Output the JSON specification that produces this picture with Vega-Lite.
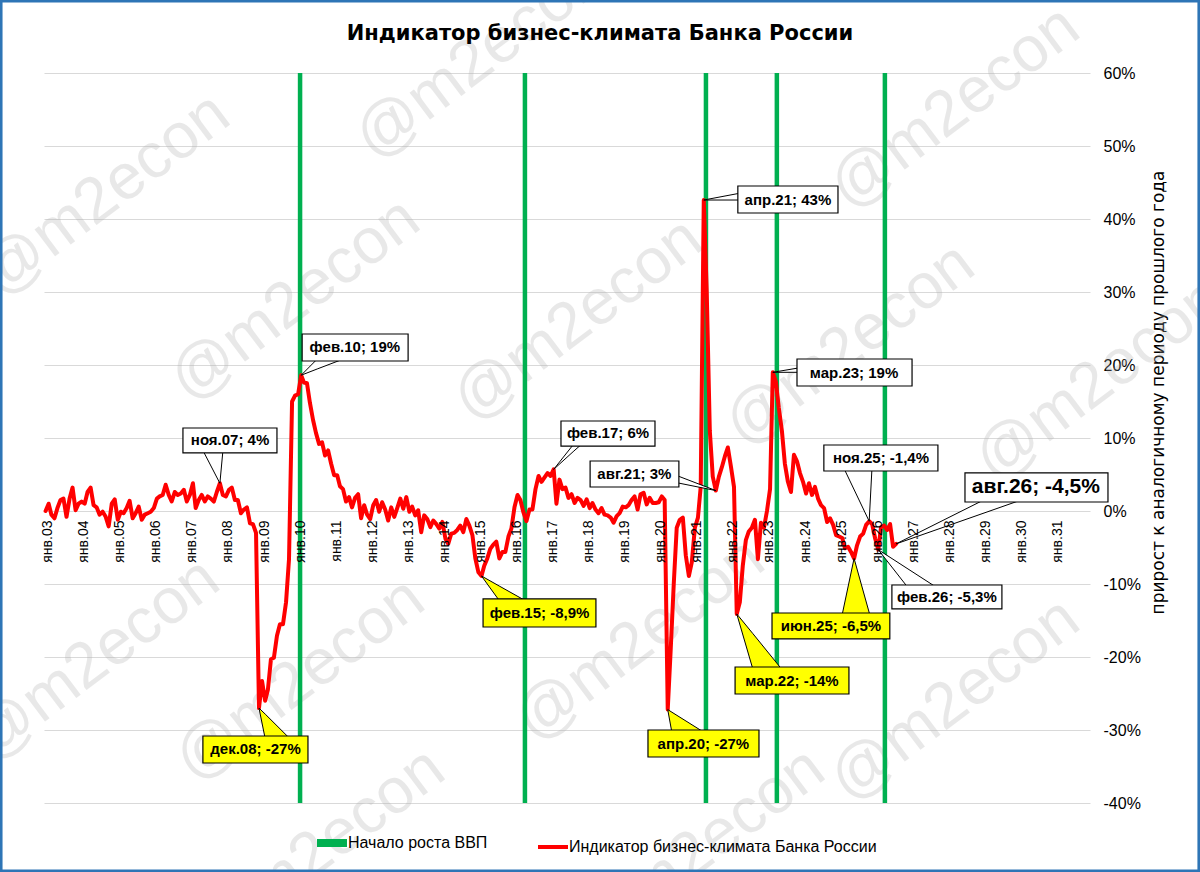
{
  "$schema": "https://vega.github.io/schema/vega-lite/v6.json",
  "width": 1046,
  "height": 730,
  "autosize": {"type": "none"},
  "padding": {"left": 44, "top": 73, "right": 110, "bottom": 69},
  "background": "#ffffff",
  "title": {
    "text": "Индикатор бизнес-климата Банка России",
    "font": "DejaVu Sans",
    "fontSize": 21,
    "fontWeight": "bold",
    "color": "#000000",
    "anchor": "middle",
    "frame": "group",
    "baseline": "alphabetic",
    "offset": 0,
    "dx": 33,
    "dy": 117
  },
  "datasets": {
    "watermarks": [
      {"at": "2015-01-17", "level": 62.05},
      {"at": "2028-03-18", "level": 55.2},
      {"at": "2004-08-25", "level": 43.3},
      {"at": "2009-12-01", "level": 28.9},
      {"at": "2017-10-05", "level": 26.16},
      {"at": "2025-04-20", "level": 22.74},
      {"at": "2032-03-25", "level": 17.95},
      {"at": "2004-05-15", "level": -20.41},
      {"at": "2010-01-20", "level": -23.15},
      {"at": "2019-06-24", "level": -17.67},
      {"at": "2028-03-18", "level": -25.89},
      {"at": "2010-08-11", "level": -46.4},
      {"at": "2021-02-23", "level": -46.4}
    ],
    "growth": [
      {"date": "2010-01-21"},
      {"date": "2016-04-16"},
      {"date": "2021-04-23"},
      {"date": "2023-04-11"},
      {"date": "2026-04-09"}
    ],
    "series": [
      {"date": "2003-01", "value": 0}, {"date": "2003-02", "value": 1.0}, {"date": "2003-03", "value": -0.5}, {"date": "2003-04", "value": -1.0},
      {"date": "2003-05", "value": 0.4}, {"date": "2003-06", "value": 1.5}, {"date": "2003-07", "value": 1.7}, {"date": "2003-08", "value": -0.8},
      {"date": "2003-09", "value": 1.7}, {"date": "2003-10", "value": 3.2}, {"date": "2003-11", "value": 0.1}, {"date": "2003-12", "value": 1.0},
      {"date": "2004-01", "value": 1.3}, {"date": "2004-02", "value": 1.0}, {"date": "2004-03", "value": 2.6}, {"date": "2004-04", "value": 3.2},
      {"date": "2004-05", "value": 0.8}, {"date": "2004-06", "value": 0.5}, {"date": "2004-07", "value": -0.5}, {"date": "2004-08", "value": -0.1},
      {"date": "2004-09", "value": -0.8}, {"date": "2004-10", "value": -2.1}, {"date": "2004-11", "value": 1.0}, {"date": "2004-12", "value": 1.6},
      {"date": "2005-01", "value": -1.2}, {"date": "2005-02", "value": -0.1}, {"date": "2005-03", "value": -0.3}, {"date": "2005-04", "value": 0.4},
      {"date": "2005-05", "value": 1.4}, {"date": "2005-06", "value": -1.0}, {"date": "2005-07", "value": -0.3}, {"date": "2005-08", "value": 0.6},
      {"date": "2005-09", "value": -1.2}, {"date": "2005-10", "value": -0.5}, {"date": "2005-11", "value": -0.3}, {"date": "2005-12", "value": -0.1},
      {"date": "2006-01", "value": 0.4}, {"date": "2006-02", "value": 1.7}, {"date": "2006-03", "value": 2.0}, {"date": "2006-04", "value": 2.2},
      {"date": "2006-05", "value": 3.6}, {"date": "2006-06", "value": 2.2}, {"date": "2006-07", "value": 1.3}, {"date": "2006-08", "value": 2.6},
      {"date": "2006-09", "value": 2.2}, {"date": "2006-10", "value": 2.4}, {"date": "2006-11", "value": 2.9}, {"date": "2006-12", "value": 1.3},
      {"date": "2007-01", "value": 2.2}, {"date": "2007-02", "value": 3.8}, {"date": "2007-03", "value": 0.4}, {"date": "2007-04", "value": 1.5},
      {"date": "2007-05", "value": 2.2}, {"date": "2007-06", "value": 1.3}, {"date": "2007-07", "value": 2.0}, {"date": "2007-08", "value": 1.7},
      {"date": "2007-09", "value": 1.3}, {"date": "2007-10", "value": 2.6}, {"date": "2007-11", "value": 3.8}, {"date": "2007-12", "value": 2.2},
      {"date": "2008-01", "value": 2.0}, {"date": "2008-02", "value": 2.9}, {"date": "2008-03", "value": 3.2}, {"date": "2008-04", "value": 1.5},
      {"date": "2008-05", "value": 1.5}, {"date": "2008-06", "value": -0.3}, {"date": "2008-07", "value": 0.2}, {"date": "2008-08", "value": 0.5},
      {"date": "2008-09", "value": -1.7}, {"date": "2008-10", "value": -1.8}, {"date": "2008-11", "value": -3.0}, {"date": "2008-12", "value": -27.0},
      {"date": "2009-01", "value": -23.3}, {"date": "2009-02", "value": -26.0}, {"date": "2009-03", "value": -24.5}, {"date": "2009-04", "value": -20.3},
      {"date": "2009-05", "value": -20.1}, {"date": "2009-06", "value": -17.1}, {"date": "2009-07", "value": -15.5}, {"date": "2009-08", "value": -15.5},
      {"date": "2009-09", "value": -12.5}, {"date": "2009-10", "value": -6.6}, {"date": "2009-11", "value": 15.0}, {"date": "2009-12", "value": 15.8},
      {"date": "2010-01", "value": 16.0}, {"date": "2010-02", "value": 18.6}, {"date": "2010-03", "value": 17.6}, {"date": "2010-04", "value": 17.5},
      {"date": "2010-05", "value": 14.8}, {"date": "2010-06", "value": 12.5}, {"date": "2010-07", "value": 10.7}, {"date": "2010-08", "value": 9.2},
      {"date": "2010-09", "value": 9.4}, {"date": "2010-10", "value": 7.6}, {"date": "2010-11", "value": 8.3}, {"date": "2010-12", "value": 6.5},
      {"date": "2011-01", "value": 4.9}, {"date": "2011-02", "value": 4.9}, {"date": "2011-03", "value": 3.4}, {"date": "2011-04", "value": 3.0},
      {"date": "2011-05", "value": 1.3}, {"date": "2011-06", "value": 1.9}, {"date": "2011-07", "value": 0.5}, {"date": "2011-08", "value": 1.8},
      {"date": "2011-09", "value": 2.3}, {"date": "2011-10", "value": -1.0}, {"date": "2011-11", "value": 0.8}, {"date": "2011-12", "value": -0.5},
      {"date": "2012-01", "value": -1.1}, {"date": "2012-02", "value": 0.8}, {"date": "2012-03", "value": 1.5}, {"date": "2012-04", "value": -0.1},
      {"date": "2012-05", "value": 1.2}, {"date": "2012-06", "value": 0.2}, {"date": "2012-07", "value": -1.3}, {"date": "2012-08", "value": 0.5},
      {"date": "2012-09", "value": -0.8}, {"date": "2012-10", "value": 0.4}, {"date": "2012-11", "value": 1.7}, {"date": "2012-12", "value": 0.3},
      {"date": "2013-01", "value": 1.9}, {"date": "2013-02", "value": -0.1}, {"date": "2013-03", "value": 0.6}, {"date": "2013-04", "value": -0.6},
      {"date": "2013-05", "value": 0.1}, {"date": "2013-06", "value": -2.9}, {"date": "2013-07", "value": -0.6}, {"date": "2013-08", "value": -1.1},
      {"date": "2013-09", "value": -2.2}, {"date": "2013-10", "value": -1.3}, {"date": "2013-11", "value": -1.8}, {"date": "2013-12", "value": -2.4},
      {"date": "2014-01", "value": -1.5}, {"date": "2014-02", "value": -3.8}, {"date": "2014-03", "value": -4.5}, {"date": "2014-04", "value": -3.1},
      {"date": "2014-05", "value": -3.0}, {"date": "2014-06", "value": -2.6}, {"date": "2014-07", "value": -2.0}, {"date": "2014-08", "value": -2.9},
      {"date": "2014-09", "value": -1.1}, {"date": "2014-10", "value": -2.0}, {"date": "2014-11", "value": -3.3}, {"date": "2014-12", "value": -6.5},
      {"date": "2015-01", "value": -8.4}, {"date": "2015-02", "value": -8.9}, {"date": "2015-03", "value": -7.5}, {"date": "2015-04", "value": -6.5},
      {"date": "2015-05", "value": -5.2}, {"date": "2015-06", "value": -4.6}, {"date": "2015-07", "value": -4.2}, {"date": "2015-08", "value": -6.5},
      {"date": "2015-09", "value": -5.6}, {"date": "2015-10", "value": -5.6}, {"date": "2015-11", "value": -3.5}, {"date": "2015-12", "value": -2.4},
      {"date": "2016-01", "value": 0.5}, {"date": "2016-02", "value": 2.2}, {"date": "2016-03", "value": 1.5}, {"date": "2016-04", "value": -0.2},
      {"date": "2016-05", "value": -1.4}, {"date": "2016-06", "value": 0.2}, {"date": "2016-07", "value": 0.2}, {"date": "2016-08", "value": 3.0},
      {"date": "2016-09", "value": 4.8}, {"date": "2016-10", "value": 4.0}, {"date": "2016-11", "value": 4.6}, {"date": "2016-12", "value": 5.2},
      {"date": "2017-01", "value": 4.8}, {"date": "2017-02", "value": 5.7}, {"date": "2017-03", "value": 1.0}, {"date": "2017-04", "value": 4.3},
      {"date": "2017-05", "value": 3.0}, {"date": "2017-06", "value": 3.2}, {"date": "2017-07", "value": 1.8}, {"date": "2017-08", "value": 2.3},
      {"date": "2017-09", "value": 1.1}, {"date": "2017-10", "value": 1.8}, {"date": "2017-11", "value": 1.5}, {"date": "2017-12", "value": 0.7},
      {"date": "2018-01", "value": 1.6}, {"date": "2018-02", "value": 0.4}, {"date": "2018-03", "value": 1.1}, {"date": "2018-04", "value": 0.2},
      {"date": "2018-05", "value": -0.3}, {"date": "2018-06", "value": 0.4}, {"date": "2018-07", "value": -0.5}, {"date": "2018-08", "value": -0.6},
      {"date": "2018-09", "value": -0.9}, {"date": "2018-10", "value": -1.6}, {"date": "2018-11", "value": -0.7}, {"date": "2018-12", "value": -0.3},
      {"date": "2019-01", "value": 0.6}, {"date": "2019-02", "value": 0.5}, {"date": "2019-03", "value": 0.8}, {"date": "2019-04", "value": 1.5},
      {"date": "2019-05", "value": 2.0}, {"date": "2019-06", "value": 0.2}, {"date": "2019-07", "value": 2.3}, {"date": "2019-08", "value": 2.5},
      {"date": "2019-09", "value": 0.9}, {"date": "2019-10", "value": 1.8}, {"date": "2019-11", "value": 1.1}, {"date": "2019-12", "value": 1.1},
      {"date": "2020-01", "value": 1.2}, {"date": "2020-02", "value": 2.0}, {"date": "2020-03", "value": 1.5}, {"date": "2020-04", "value": -27.2},
      {"date": "2020-05", "value": -19.0}, {"date": "2020-06", "value": -10.0}, {"date": "2020-07", "value": -2.3}, {"date": "2020-08", "value": -1.2},
      {"date": "2020-09", "value": -0.9}, {"date": "2020-10", "value": -6.1}, {"date": "2020-11", "value": -8.9}, {"date": "2020-12", "value": -7.0},
      {"date": "2021-01", "value": -2.3}, {"date": "2021-02", "value": -0.9}, {"date": "2021-03", "value": 3.3}, {"date": "2021-04", "value": 42.6},
      {"date": "2021-05", "value": 30.0}, {"date": "2021-06", "value": 11.0}, {"date": "2021-07", "value": 4.7}, {"date": "2021-08", "value": 2.8},
      {"date": "2021-09", "value": 4.7}, {"date": "2021-10", "value": 6.0}, {"date": "2021-11", "value": 7.5}, {"date": "2021-12", "value": 8.7},
      {"date": "2022-01", "value": 6.1}, {"date": "2022-02", "value": 3.3}, {"date": "2022-03", "value": -14.1}, {"date": "2022-04", "value": -12.5},
      {"date": "2022-05", "value": -7.5}, {"date": "2022-06", "value": -4.0}, {"date": "2022-07", "value": -2.8}, {"date": "2022-08", "value": -2.3},
      {"date": "2022-09", "value": -1.2}, {"date": "2022-10", "value": -6.6}, {"date": "2022-11", "value": -1.6}, {"date": "2022-12", "value": -2.3},
      {"date": "2023-01", "value": 0.0}, {"date": "2023-02", "value": 3.0}, {"date": "2023-03", "value": 19.0}, {"date": "2023-04", "value": 17.7},
      {"date": "2023-05", "value": 14.1}, {"date": "2023-06", "value": 11.0}, {"date": "2023-07", "value": 6.5}, {"date": "2023-08", "value": 4.0},
      {"date": "2023-09", "value": 2.6}, {"date": "2023-10", "value": 7.7}, {"date": "2023-11", "value": 6.8}, {"date": "2023-12", "value": 5.2},
      {"date": "2024-01", "value": 4.0}, {"date": "2024-02", "value": 2.4}, {"date": "2024-03", "value": 3.8}, {"date": "2024-04", "value": 2.2},
      {"date": "2024-05", "value": 3.3}, {"date": "2024-06", "value": 1.7}, {"date": "2024-07", "value": 0.8}, {"date": "2024-08", "value": 0.4},
      {"date": "2024-09", "value": -1.5}, {"date": "2024-10", "value": -1.0}, {"date": "2024-11", "value": -1.9}, {"date": "2024-12", "value": -3.3},
      {"date": "2025-01", "value": -3.5}, {"date": "2025-02", "value": -3.7}, {"date": "2025-03", "value": -5.1}, {"date": "2025-04", "value": -4.9},
      {"date": "2025-05", "value": -5.6}, {"date": "2025-06", "value": -6.5}, {"date": "2025-07", "value": -4.7}, {"date": "2025-08", "value": -3.5},
      {"date": "2025-09", "value": -3.1}, {"date": "2025-10", "value": -1.9}, {"date": "2025-11", "value": -1.4}, {"date": "2025-12", "value": -1.8},
      {"date": "2026-01", "value": -3.8}, {"date": "2026-02", "value": -5.3}, {"date": "2026-03", "value": -2.2}, {"date": "2026-04", "value": -2.0},
      {"date": "2026-05", "value": -2.6}, {"date": "2026-06", "value": -1.8}, {"date": "2026-07", "value": -4.9}, {"date": "2026-08", "value": -4.5}
    ],
    "wedges": [
      {"id": 1, "kind": "note", "at": "2010-02-01", "v1": 18.6, "v2": 18.6},
      {"id": 1, "kind": "note", "at": "2010-07-20", "v1": 20.9, "v2": 19.49},
      {"id": 1, "kind": "note", "at": "2011-04-20", "v1": 20.9, "v2": 20.9},
      {"id": 2, "kind": "note", "at": "2007-05-13", "v1": 8.3, "v2": 8.3},
      {"id": 2, "kind": "note", "at": "2007-11-01", "v1": 3.8, "v2": 8.3},
      {"id": 2, "kind": "note", "at": "2007-12-02", "v1": 8.3, "v2": 8.3},
      {"id": 3, "kind": "note", "at": "2017-02-01", "v1": 5.7, "v2": 5.7},
      {"id": 3, "kind": "note", "at": "2017-08-25", "v1": 9.2, "v2": 8.22},
      {"id": 3, "kind": "note", "at": "2017-11-15", "v1": 9.2, "v2": 9.2},
      {"id": 4, "kind": "note", "at": "2020-06-23", "v1": 4.9, "v2": 3.9},
      {"id": 4, "kind": "note", "at": "2021-08-01", "v1": 2.8, "v2": 2.8},
      {"id": 5, "kind": "note", "at": "2021-04-01", "v1": 42.6, "v2": 42.6},
      {"id": 5, "kind": "note", "at": "2022-04-12", "v1": 43.56, "v2": 42.6},
      {"id": 6, "kind": "note", "at": "2023-03-01", "v1": 19.0, "v2": 19.0},
      {"id": 6, "kind": "note", "at": "2024-01-01", "v1": 19.7, "v2": 19.0},
      {"id": 7, "kind": "note", "at": "2025-02-20", "v1": 5.8, "v2": 5.8},
      {"id": 7, "kind": "note", "at": "2025-11-01", "v1": -1.4, "v2": 5.8},
      {"id": 7, "kind": "note", "at": "2025-11-29", "v1": 5.8, "v2": 5.8},
      {"id": 8, "kind": "note", "at": "2026-08-01", "v1": -4.5, "v2": -4.5},
      {"id": 8, "kind": "note", "at": "2029-01-17", "v1": 1.6, "v2": -0.23},
      {"id": 8, "kind": "note", "at": "2030-02-06", "v1": 1.6, "v2": 1.6},
      {"id": 9, "kind": "note", "at": "2026-02-01", "v1": -5.3, "v2": -5.3},
      {"id": 9, "kind": "note", "at": "2026-11-29", "v1": -10.5, "v2": -7.94},
      {"id": 9, "kind": "note", "at": "2027-09-18", "v1": -10.5, "v2": -10.5},
      {"id": 10, "kind": "low", "at": "2008-12-01", "v1": -27.0, "v2": -27.0},
      {"id": 10, "kind": "low", "at": "2009-02-02", "v1": -31.2, "v2": -27.82},
      {"id": 10, "kind": "low", "at": "2009-10-11", "v1": -31.2, "v2": -31.2},
      {"id": 11, "kind": "low", "at": "2015-02-01", "v1": -8.9, "v2": -8.9},
      {"id": 11, "kind": "low", "at": "2015-08-07", "v1": -12.4, "v2": -10.33},
      {"id": 11, "kind": "low", "at": "2016-05-06", "v1": -12.4, "v2": -12.4},
      {"id": 12, "kind": "low", "at": "2020-04-01", "v1": -27.2, "v2": -27.2},
      {"id": 12, "kind": "low", "at": "2020-05-14", "v1": -30.4, "v2": -27.57},
      {"id": 12, "kind": "low", "at": "2021-04-13", "v1": -30.4, "v2": -30.4},
      {"id": 13, "kind": "low", "at": "2022-03-01", "v1": -14.1, "v2": -14.1},
      {"id": 13, "kind": "low", "at": "2022-08-12", "v1": -21.7, "v2": -16.81},
      {"id": 13, "kind": "low", "at": "2023-06-01", "v1": -21.7, "v2": -21.7},
      {"id": 14, "kind": "low", "at": "2025-01-30", "v1": -14.3, "v2": -14.3},
      {"id": 14, "kind": "low", "at": "2025-06-01", "v1": -6.5, "v2": -14.3},
      {"id": 14, "kind": "low", "at": "2025-11-09", "v1": -14.3, "v2": -14.3}
    ],
    "callouts": [
      {"label": "фев.10; 19%", "kind": "note", "left": "2010-02-11", "right": "2013-01-19", "top": 24.25, "bottom": 20.55, "tx": "2011-07-30", "ty": 22.4},
      {"label": "ноя.07; 4%", "kind": "note", "left": "2006-10-23", "right": "2009-06-01", "top": 11.37, "bottom": 7.95, "tx": "2008-02-12", "ty": 9.66},
      {"label": "фев.17; 6%", "kind": "note", "left": "2017-04-16", "right": "2019-11-24", "top": 12.33, "bottom": 8.9, "tx": "2018-08-05", "ty": 10.62},
      {"label": "авг.21; 3%", "kind": "note", "left": "2018-02-05", "right": "2020-07-23", "top": 6.85, "bottom": 3.29, "tx": "2019-04-29", "ty": 5.07},
      {"label": "апр.21; 43%", "kind": "note", "left": "2022-03-12", "right": "2024-12-20", "top": 44.52, "bottom": 40.82, "tx": "2023-08-01", "ty": 42.67},
      {"label": "мар.23; 19%", "kind": "note", "left": "2023-11-01", "right": "2027-01-09", "top": 20.82, "bottom": 17.12, "tx": "2025-06-01", "ty": 18.97},
      {"label": "ноя.25; -1,4%", "kind": "note", "left": "2024-07-30", "right": "2027-09-28", "top": 9.04, "bottom": 5.48, "tx": "2026-03-01", "ty": 7.26},
      {"label": "авг.26; -4,5%", "kind": "note", "left": "2028-06-28", "right": "2032-06-15", "top": 5.21, "bottom": 1.23, "tx": "2030-06-16", "ty": 3.22},
      {"label": "фев.26; -5,3%", "kind": "note", "left": "2026-06-19", "right": "2029-07-07", "top": -10.14, "bottom": -13.42, "tx": "2027-12-28", "ty": -11.78},
      {"label": "дек.08; -27%", "kind": "low", "left": "2007-05-13", "right": "2010-04-11", "top": -30.82, "bottom": -34.52, "tx": "2008-10-27", "ty": -32.67},
      {"label": "фев.15; -8,9%", "kind": "low", "left": "2015-02-17", "right": "2018-04-05", "top": -12.05, "bottom": -15.89, "tx": "2016-09-11", "ty": -13.97},
      {"label": "апр.20; -27%", "kind": "low", "left": "2019-09-14", "right": "2022-10-12", "top": -30.0, "bottom": -33.7, "tx": "2021-03-28", "ty": -31.85},
      {"label": "мар.22; -14%", "kind": "low", "left": "2022-02-12", "right": "2025-04-10", "top": -21.37, "bottom": -25.07, "tx": "2023-09-11", "ty": -23.22},
      {"label": "июн.25; -6,5%", "kind": "low", "left": "2023-02-21", "right": "2026-05-29", "top": -13.97, "bottom": -17.53, "tx": "2024-10-10", "ty": -15.75}
    ],
    "frame": [
      {"left": "2001-10-07", "right": "2034-12-23", "top": 69.86, "bottom": -49.32}
    ]
  },
  "layer": [
    {
      "data": {"name": "watermarks"},
      "mark": {"type": "text", "text": "@m2econ", "font": "Liberation Sans", "fontSize": 64, "angle": -37, "align": "center", "baseline": "middle", "fill": "#b0b0b0", "opacity": 0.28},
      "encoding": {
        "x": {"field": "at", "type": "temporal"},
        "y": {"field": "level", "type": "quantitative"}
      }
    },
    {
      "data": {"name": "growth"},
      "mark": {"type": "rule", "strokeWidth": 4.5},
      "encoding": {
        "x": {"field": "date", "type": "temporal",
              "scale": {"domain": ["2002-12-16", "2031-12-16"], "nice": false}},
        "color": {
          "datum": "Начало роста ВВП",
          "type": "nominal",
          "scale": {"domain": ["Начало роста ВВП", "Индикатор бизнес-климата Банка России"], "range": ["#00b050", "#ff0000"]},
          "legend": {
            "title": null,
            "orient": "none",
            "legendX": 280,
            "legendY": 762,
            "direction": "horizontal",
            "symbolType": "stroke",
            "symbolSize": 900,
            "symbolStrokeWidth": 4,
            "labelFont": "Liberation Sans",
            "labelFontSize": 16,
            "labelColor": "#000000",
            "labelLimit": 500,
            "labelOffset": 8,
            "columnPadding": 42,
            "encode": {
              "symbols": {"update": {"strokeWidth": {"signal": "datum.value === 'Начало роста ВВП' ? 8 : 4"}}}
            }
          }
        }
      }
    },
    {
      "data": {"name": "series"},
      "mark": {"type": "line", "strokeWidth": 4, "strokeJoin": "round", "strokeCap": "round"},
      "encoding": {
        "x": {
          "field": "date",
          "type": "temporal",
          "scale": {"domain": ["2002-12-16", "2031-12-16"], "nice": false},
          "axis": {
            "orient": "bottom",
            "offset": -292,
            "title": null,
            "tickCount": {"interval": "year", "step": 1},
            "labelExpr": "'янв.' + timeFormat(datum.value, '%y')",
            "labelAngle": -90,
            "labelFont": "Liberation Sans",
            "labelFontSize": 14,
            "labelColor": "#000000",
            "labelPadding": 9,
            "labelOffset": 2,
            "labelFlush": false,
            "labelOverlap": false,
            "ticks": false,
            "domain": false,
            "grid": false,
            "zindex": 1
          }
        },
        "y": {
          "field": "value",
          "type": "quantitative",
          "scale": {"domain": [-40, 60], "nice": false, "zero": false},
          "axis": {
            "orient": "right",
            "values": [-40, -30, -20, -10, 0, 10, 20, 30, 40, 50, 60],
            "labelExpr": "datum.value + '%'",
            "labelFont": "Liberation Sans",
            "labelFontSize": 16,
            "labelColor": "#000000",
            "labelPadding": 13,
            "ticks": false,
            "domain": false,
            "grid": true,
            "gridColor": "#d9d9d9",
            "gridWidth": 1.2,
            "title": "прирост к аналогичному периоду прошлого года",
            "titleFont": "DejaVu Sans",
            "titleFontSize": 17,
            "titleFontWeight": "normal",
            "titleColor": "#000000",
            "titleAngle": -90,
            "titleBaseline": "top",
            "titleY": 319,
            "titlePadding": 10
          }
        },
        "color": {"datum": "Индикатор бизнес-климата Банка России", "type": "nominal"}
      }
    },
    {
      "data": {"name": "wedges"},
      "mark": {"type": "area", "orient": "vertical", "stroke": "#000000", "strokeWidth": 1},
      "encoding": {
        "x": {"field": "at", "type": "temporal"},
        "y": {"field": "v1", "type": "quantitative"},
        "y2": {"field": "v2"},
        "detail": {"field": "id", "type": "nominal"},
        "fill": {"field": "kind", "type": "nominal", "scale": {"domain": ["note", "low"], "range": ["#ffffff", "#ffff00"]}, "legend": null}
      }
    },
    {
      "data": {"name": "callouts"},
      "mark": {"type": "rect", "stroke": "#000000", "strokeWidth": 1.2},
      "encoding": {
        "x": {"field": "left", "type": "temporal"},
        "x2": {"field": "right"},
        "y": {"field": "top", "type": "quantitative"},
        "y2": {"field": "bottom"},
        "fill": {"field": "kind", "type": "nominal", "scale": {"domain": ["note", "low"], "range": ["#ffffff", "#ffff00"]}, "legend": null}
      }
    },
    {
      "data": {"name": "callouts"},
      "mark": {"type": "text", "font": "Liberation Sans", "fontWeight": "bold", "align": "center", "baseline": "middle", "fill": "#000000"},
      "encoding": {
        "x": {"field": "tx", "type": "temporal"},
        "y": {"field": "ty", "type": "quantitative"},
        "text": {"field": "label"},
        "size": {"condition": {"test": "datum.label === 'авг.26; -4,5%'", "value": 21}, "value": 15}
      }
    },
    {
      "data": {"name": "frame"},
      "mark": {"type": "rect", "filled": false, "stroke": "#2e75b6", "strokeWidth": 3},
      "encoding": {
        "x": {"field": "left", "type": "temporal"},
        "x2": {"field": "right"},
        "y": {"field": "top", "type": "quantitative"},
        "y2": {"field": "bottom"}
      }
    }
  ],
  "config": {
    "view": {"stroke": null},
    "font": "Liberation Sans"
  }
}
